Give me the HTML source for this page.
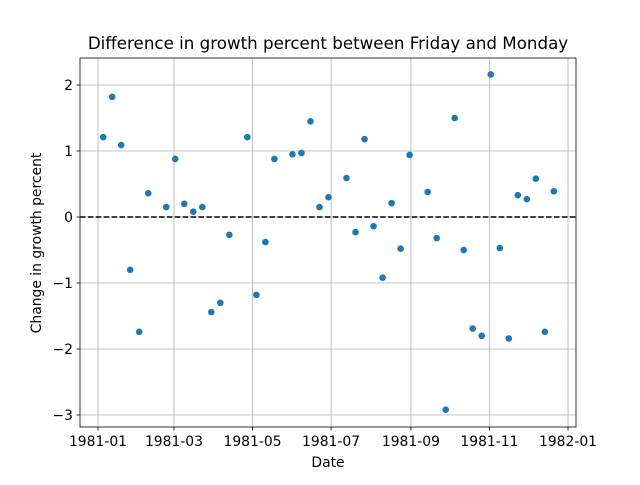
<!DOCTYPE html>
<html><head><meta charset="utf-8"><style>
body{margin:0;background:#fff;font-family:"Liberation Sans","DejaVu Sans",sans-serif;}
svg text{font-family:"DejaVu Sans","Liberation Sans",sans-serif;}
</style></head><body>
<svg id="chart" width="640" height="480" xmlns="http://www.w3.org/2000/svg">
<rect width="640" height="480" fill="#fff"/>
<g id="grid"></g>
<g id="ticks"></g>
<g id="pts"></g>
<line x1="80" x2="576" y1="217" y2="217" stroke="#000" stroke-width="1.5" stroke-dasharray="5.5,2.4"/>
<rect x="80" y="58" width="496" height="369" fill="none" stroke="#000" stroke-width="0.8"/>
<text x="328" y="49" font-size="16.7" text-anchor="middle">Difference in growth percent between Friday and Monday</text>
<text x="328" y="467" font-size="13.9" text-anchor="middle">Date</text>
<text transform="translate(41,243) rotate(-90)" font-size="13.9" text-anchor="middle">Change in growth percent</text>
</svg>
<script>
const weekIndex=[0,1,2,3,4,5,7,8,9,10,11,12,13,14,16,17,18,19,21,22,23,24,25,27,28,29,30,31,32,33,34,36,37,38,39,40,41,42,43,44,45,46,47,48,49,50];
const values=[1.21,1.82,1.09,-0.8,-1.74,0.36,0.15,0.88,0.20,0.08,0.15,-1.44,-1.30,-0.27,1.21,-1.18,-0.38,0.88,0.95,0.97,1.45,0.15,0.30,0.59,-0.23,1.18,-0.14,-0.92,0.21,-0.48,0.94,0.38,-0.32,-2.92,1.50,-0.50,-1.69,-1.80,2.16,-0.47,-1.84,0.33,0.27,0.58,-1.74,0.39];
const xTickDays=[0,59,120,181,243,304,365];
const xTickLabels=["1981-01","1981-03","1981-05","1981-07","1981-09","1981-11","1982-01"];
const yTicks=[2,1,0,-1,-2,-3];
const NS="http://www.w3.org/2000/svg";
const xs=d=>98+d*1.2877;
const ys=v=>217-v*66;
const grid=document.getElementById('grid'),ticks=document.getElementById('ticks'),pts=document.getElementById('pts');
function mk(tag,attrs,parent){const e=document.createElementNS(NS,tag);for(const k in attrs)e.setAttribute(k,attrs[k]);parent.appendChild(e);return e;}
xTickDays.forEach((d,i)=>{const x=xs(d);
const g=mk('line',{x1:x,x2:x,y1:58,y2:427,stroke:'#b0b0b0','stroke-width':0.8},grid);


mk('line',{x1:x,x2:x,y1:427,y2:430.5,stroke:'#000','stroke-width':0.8},ticks);
const t=mk('text',{x:x,y:446,'font-size':13.9,'text-anchor':'middle'},ticks);t.textContent=xTickLabels[i];

});
yTicks.forEach(v=>{const y=ys(v);
const g=mk('line',{x1:80,x2:576,y1:y,y2:y,stroke:'#b0b0b0','stroke-width':0.8},grid);


mk('line',{x1:76.5,x2:80,y1:y,y2:y,stroke:'#000','stroke-width':0.8},ticks);
const t=mk('text',{x:73,y:y+5,'font-size':13.9,'text-anchor':'end'},ticks);t.textContent=v<0?'\u2212'+(-v):String(v);

});
weekIndex.forEach((k,i)=>{const c=mk('circle',{cx:xs(4+7*k),cy:ys(values[i]),r:3.3,fill:'#1f77b4'},pts);

});
</script>
</body></html>
